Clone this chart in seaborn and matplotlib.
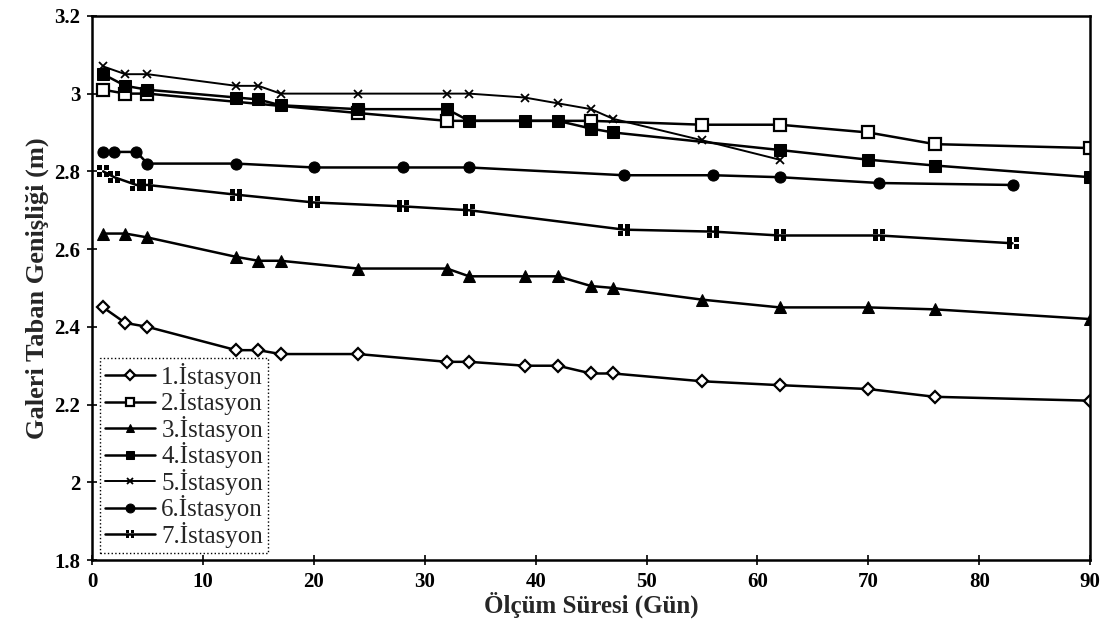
import matplotlib
matplotlib.use("Agg")
import matplotlib.pyplot as plt
from matplotlib.path import Path
import numpy as np
import pandas as pd
import seaborn as sns

# ---- data ----
days_1 = [1, 3, 5, 13, 15, 17, 24, 32, 34, 39, 42, 45, 47, 55, 62, 70, 76, 90]
vals_1 = [2.45, 2.41, 2.40, 2.34, 2.34, 2.33, 2.33, 2.31, 2.31, 2.30, 2.30, 2.28, 2.28, 2.26, 2.25, 2.24, 2.22, 2.21]

days_2 = [1, 3, 5, 24, 32, 45, 55, 62, 70, 76, 90]
vals_2 = [3.01, 3.00, 3.00, 2.95, 2.93, 2.93, 2.92, 2.92, 2.90, 2.87, 2.86]

days_3 = [1, 3, 5, 13, 15, 17, 24, 32, 34, 39, 42, 45, 47, 55, 62, 70, 76, 90]
vals_3 = [2.64, 2.64, 2.63, 2.58, 2.57, 2.57, 2.55, 2.55, 2.53, 2.53, 2.53, 2.505, 2.50, 2.47, 2.45, 2.45, 2.445, 2.42]

days_4 = [1, 3, 5, 13, 15, 17, 24, 32, 34, 39, 42, 45, 47, 62, 70, 76, 90]
vals_4 = [3.05, 3.02, 3.01, 2.99, 2.985, 2.97, 2.96, 2.96, 2.93, 2.93, 2.93, 2.91, 2.90, 2.855, 2.83, 2.815, 2.785]

days_5 = [1, 3, 5, 13, 15, 17, 24, 32, 34, 39, 42, 45, 47, 55, 62]
vals_5 = [3.07, 3.05, 3.05, 3.02, 3.02, 3.00, 3.00, 3.00, 3.00, 2.99, 2.975, 2.96, 2.935, 2.88, 2.83]

days_6 = [1, 2, 4, 5, 13, 20, 28, 34, 48, 56, 62, 71, 83]
vals_6 = [2.85, 2.85, 2.85, 2.82, 2.82, 2.81, 2.81, 2.81, 2.79, 2.79, 2.785, 2.77, 2.765]

days_7 = [1, 2, 4, 5, 13, 20, 28, 34, 48, 56, 62, 71, 83]
vals_7 = [2.80, 2.785, 2.765, 2.765, 2.74, 2.72, 2.71, 2.70, 2.65, 2.645, 2.635, 2.635, 2.615]

labels = ["1.İstasyon", "2.İstasyon", "3.İstasyon", "4.İstasyon",
          "5.İstasyon", "6.İstasyon", "7.İstasyon"]

x_ticks = [0, 10, 20, 30, 40, 50, 60, 70, 80, 90]
y_ticks = [1.8, 2.0, 2.2, 2.4, 2.6, 2.8, 3.0, 3.2]
y_tick_labels = ["1.8", "2", "2.2", "2.4", "2.6", "2.8", "3", "3.2"]

x_label = "Ölçüm Süresi (Gün)"
y_label = "Galeri Taban Genişliği (m)"

# ---- style ----
sns.set_theme(style="white")
plt.rcParams["font.family"] = ["Liberation Serif", "DejaVu Serif"]

# four-square marker (⊞ look)
def quad_marker():
    g = 0.18
    verts, codes = [], []
    for (x0, y0) in [(-1, -1), (g, -1), (-1, g), (g, g)]:
        x1, y1 = x0 + (1 - g), y0 + (1 - g)
        verts += [(x0, y0), (x1, y0), (x1, y1), (x0, y1), (x0, y0)]
        codes += [Path.MOVETO, Path.LINETO, Path.LINETO, Path.LINETO, Path.CLOSEPOLY]
    return Path(verts, codes)

styles = [
    dict(marker="D", markersize=6, markerfacecolor="white", markeredgewidth=1.6),
    dict(marker="s", markersize=8, markerfacecolor="white", markeredgewidth=1.6),
    dict(marker="^", markersize=8, markerfacecolor="black"),
    dict(marker="s", markersize=8, markerfacecolor="black"),
    dict(marker="x", markersize=6, markeredgewidth=1.3, linewidth=1.4),
    dict(marker="o", markersize=8, markerfacecolor="black"),
    dict(marker=quad_marker(), markersize=8, markerfacecolor="black", markeredgewidth=0),
]

series = [(days_1, vals_1), (days_2, vals_2), (days_3, vals_3), (days_4, vals_4),
          (days_5, vals_5), (days_6, vals_6), (days_7, vals_7)]

fig = plt.figure(figsize=(11.09, 6.35), dpi=100)
ax = fig.add_axes([0.083, 0.118, 0.9, 0.857])

for (d, v), lab, st in zip(series, labels, styles):
    kw = dict(color="black", markeredgecolor="black", linewidth=1.8)
    kw.update(st)
    df = pd.DataFrame({"day": d, "val": v})
    sns.lineplot(data=df, x="day", y="val", ax=ax, label=lab, **kw)

ax.set_xlim(0, 90)
ax.set_ylim(1.8, 3.2)
ax.set_xticks(x_ticks)
ax.set_xticklabels([str(t) for t in x_ticks])
ax.set_yticks(y_ticks)
ax.set_yticklabels(y_tick_labels)
ax.tick_params(axis="both", direction="inout", length=7, width=1.2, colors="black",
               labelsize=15, bottom=True, left=True)
ax.tick_params(axis="x", pad=5)
ax.tick_params(axis="y", pad=5)
for lbl in ax.get_xticklabels() + ax.get_yticklabels():
    lbl.set_fontweight("bold")

for sp in ax.spines.values():
    sp.set_color("black")
    sp.set_linewidth(1.8)

ax.set_xlabel(x_label, fontsize=18, fontweight="bold", labelpad=0)
ax.set_ylabel(y_label, fontsize=19, fontweight="bold", labelpad=4)

leg = ax.legend(loc="lower left", bbox_to_anchor=(0.008, 0.013), fontsize=18,
                frameon=True, fancybox=False, handlelength=2.0, handletextpad=0.25,
                labelspacing=0.02, borderpad=0.2, borderaxespad=0, markerscale=0.8)
fr = leg.get_frame()
fr.set_edgecolor("black")
fr.set_linestyle(":")
fr.set_linewidth(1.0)
fr.set_facecolor("white")
fr.set_alpha(1)

fig.savefig("out.png", dpi=100, facecolor="white")
